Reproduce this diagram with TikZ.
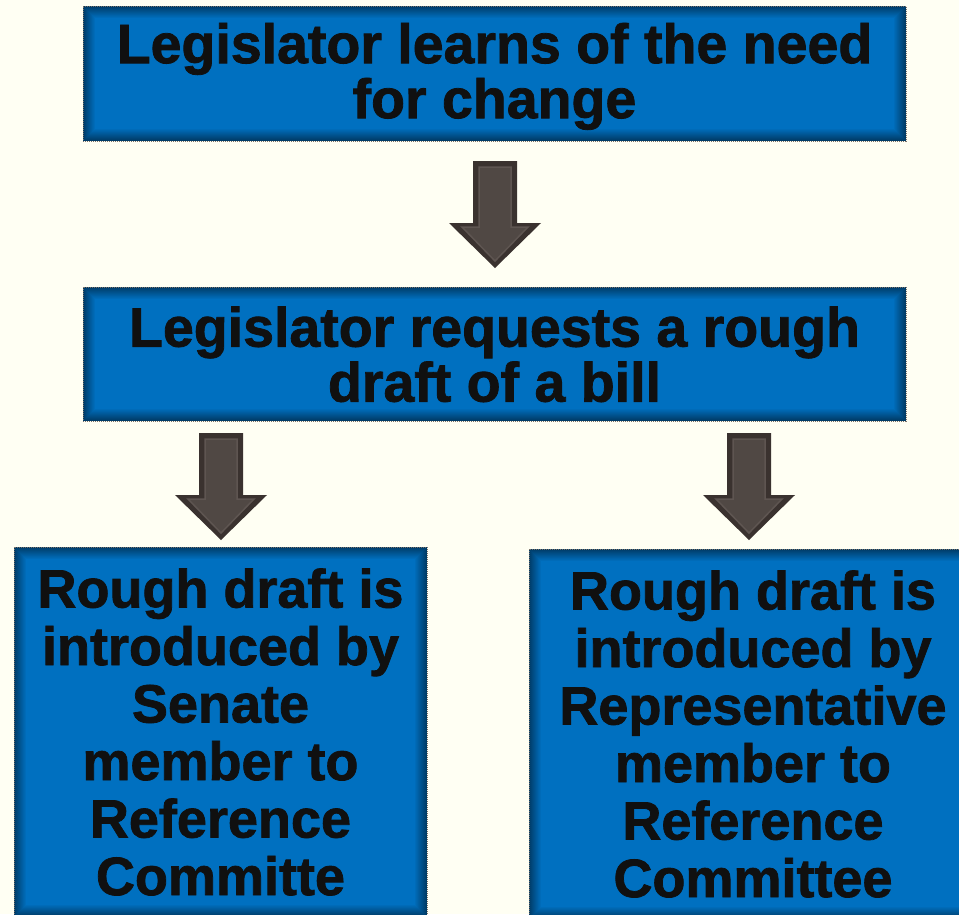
\documentclass[tikz,border=0pt]{standalone}
\usepackage{fontspec}
\setmainfont{Liberation Sans}[BoldFeatures={FakeBold=1.4}]
\definecolor{bgcream}{RGB}{255,255,243}
\definecolor{boxblue}{RGB}{0,112,192}
\definecolor{boxedge}{RGB}{125,115,105}
\definecolor{arrowdark}{RGB}{58,50,47}
\definecolor{arrowmid}{RGB}{80,72,68}
\definecolor{arrowline}{RGB}{94,85,81}
\tikzset{
  stage/.style={fill=boxblue, draw=boxedge, densely dotted, line width=1pt, inner sep=0pt,
    align=center, text={rgb,255:red,16;green,16;blue,16},
    font=\bfseries\fontsize{54}{56}\selectfont,
    path picture={
      \foreach \i in {1,...,12}{
        \pgfmathsetmacro\op{0.5*(1-\i/13)}
        \draw[solid, line width=1pt, black, opacity=\op]
          ([xshift=\i pt-0.5pt, yshift=-\i pt+0.5pt]path picture bounding box.north west) rectangle
          ([xshift=-\i pt+0.5pt, yshift=\i pt-0.5pt]path picture bounding box.south east);
      }
    }},
  wide/.style={font=\bfseries\fontsize{55.5}{55}\selectfont},
  tall/.style={font=\bfseries\fontsize{54}{57.5}\selectfont},
}
\begin{document}
\begin{tikzpicture}[x=1pt, y=-1pt]
\clip (0,0) rectangle (959,914);
\fill[bgcream] (0,0) rectangle (959,914);
% boxes
\node[stage, wide, text depth=6pt, minimum width=823pt, minimum height=135pt] (learn) at (494.5,73.5) {Legislator learns of the need\\for change};
\node[stage, wide, text depth=-6pt, minimum width=823pt, minimum height=134pt] (request) at (494.5,354) {Legislator requests a rough\\draft of a bill};
\node[stage, tall, minimum width=413pt, minimum height=370pt] (senate) at (220.5,732) {Rough draft is\\introduced by\\Senate\\member to\\Reference\\Committe};
\node[stage, tall, minimum width=448pt, minimum height=370pt] (house) at (753,734) {Rough draft is\\introduced by\\Representative\\member to\\Reference\\Committee};
% block arrows
\foreach \x/\y in {495/161, 221/433, 749/433} {
  \fill[arrowdark] (\x-22,\y) -- (\x+22,\y) -- (\x+22,\y+62) -- (\x+46,\y+62) -- (\x,\y+107) -- (\x-46,\y+62) -- (\x-22,\y+62) -- cycle;
  \draw[arrowline, fill=arrowmid, line width=1.5pt] (\x-16,\y+6) -- (\x+16,\y+6) -- (\x+16,\y+66) -- (\x+33,\y+66) -- (\x,\y+100) -- (\x-33,\y+66) -- (\x-16,\y+66) -- cycle;
}
\end{tikzpicture}
\end{document}
